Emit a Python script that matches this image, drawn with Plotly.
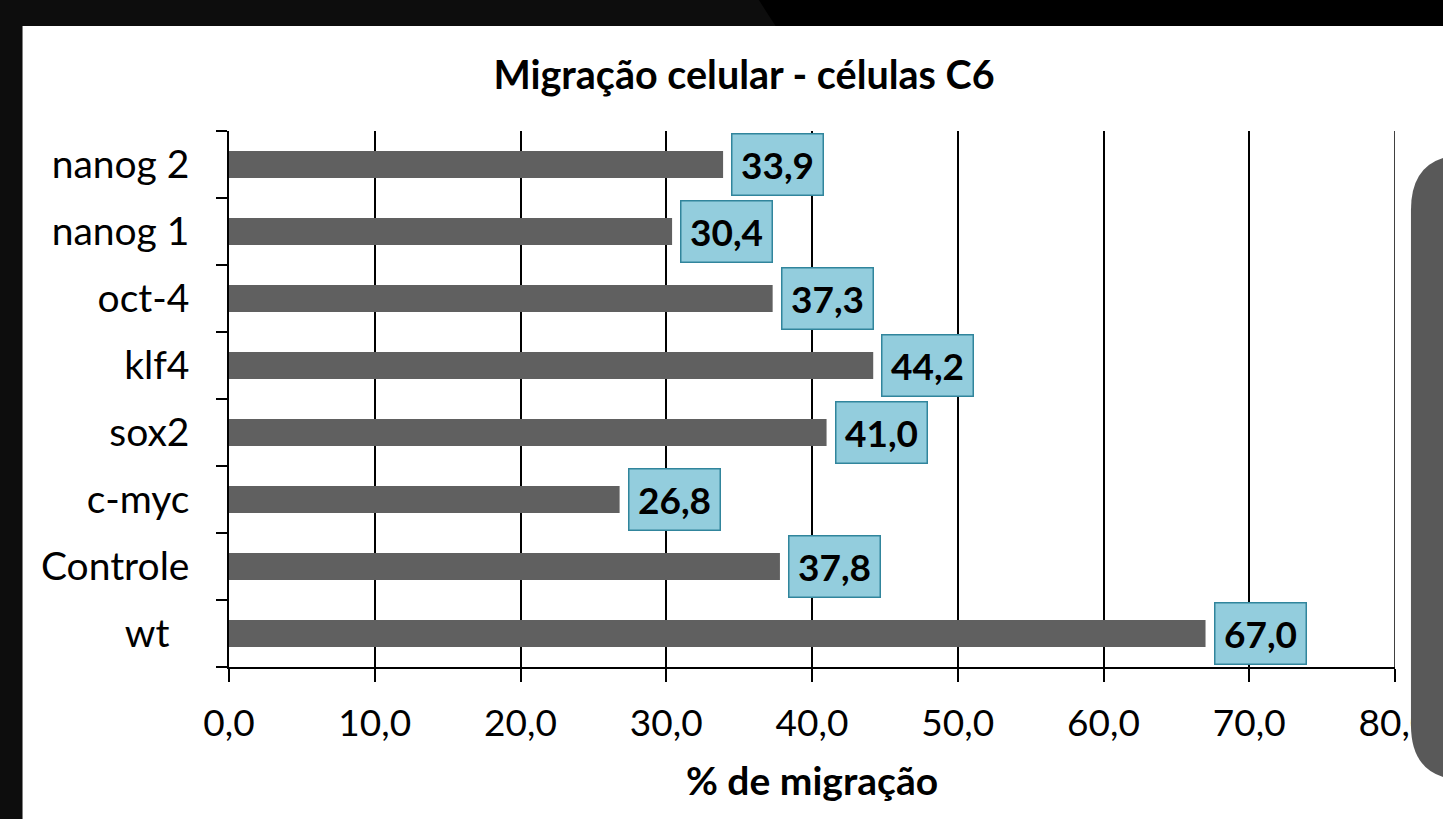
import plotly.graph_objects as go

categories = ["wt\u00a0\u00a0", "Controle", "c-myc", "sox2", "klf4", "oct-4", "nanog 1", "nanog 2"]
values = [67.0, 37.8, 26.8, 41.0, 44.2, 37.3, 30.4, 33.9]
xticks = [0, 10, 20, 30, 40, 50, 60, 70, 80]

W, H = 1443, 819
L, R, T, B = 229, 45, 131, 152
PW, PH = W - L - R, H - T - B

def fx(px):
    return (px - L) / PW

def fy(py):
    return 1 - (py - T) / PH

FONT = "Lato"

fig = go.Figure()
fig.add_trace(go.Bar(
    y=categories, x=values, orientation="h",
    marker=dict(color="#606060", line=dict(width=0)),
    width=0.4, hoverinfo="skip",
))

for c, v in zip(categories, values):
    fig.add_annotation(
        x=v, y=c, xref="x", yref="y", xanchor="left", yanchor="middle",
        xshift=8, showarrow=False,
        text=f"{v:.1f}".replace(".", ","),
        font=dict(family=FONT, size=37, color="black", weight="bold"),
        bgcolor="#93cddd", bordercolor="#31859c", borderwidth=1.5,
        width=88, height=58, borderpad=1,
    )

shapes = [
    dict(type="rect", xref="paper", yref="paper", x0=fx(-5), x1=fx(22), y0=fy(H + 5), y1=fy(-5),
         fillcolor="#0d0d0d", line=dict(width=0), layer="below"),
    dict(type="rect", xref="paper", yref="paper", x0=fx(-5), x1=fx(W + 5), y0=fy(26), y1=fy(-5),
         fillcolor="#0d0d0d", line=dict(width=0), layer="below"),
    dict(type="path", xref="paper", yref="paper",
         path=f"M {fx(757)} {fy(-5)} L {fx(W + 5)} {fy(-5)} L {fx(W + 5)} {fy(26)} L {fx(777)} {fy(26)} Z",
         fillcolor="#000000", line=dict(width=0), layer="below"),
    # gridline at the right end of the x range
    dict(type="line", xref="x", yref="paper", x0=xticks[-1], x1=xticks[-1], y0=0, y1=1,
         line=dict(color="black", width=1.5), layer="below"),
]
x0, x1, y0, y1, r = 1414, 1470, 155, 780, 55
path = (f"M {fx(x0)} {fy(y0 + r)} Q {fx(x0)} {fy(y0)} {fx(x0 + r)} {fy(y0)} "
        f"L {fx(x1)} {fy(y0)} L {fx(x1)} {fy(y1)} L {fx(x0 + r)} {fy(y1)} "
        f"Q {fx(x0)} {fy(y1)} {fx(x0)} {fy(y1 - r)} Z")
shapes.append(dict(type="path", xref="paper", yref="paper", path=path,
                   fillcolor="#595959", line=dict(width=0), layer="above"))

fig.update_layout(
    width=W, height=H,
    margin=dict(l=L, r=R, t=T, b=B, pad=0),
    paper_bgcolor="white", plot_bgcolor="white",
    separators=",.",
    showlegend=False,
    shapes=shapes,
    title=dict(text="Migração celular - células C6", x=744 / W, y=1 - 75 / H,
               xanchor="center", yanchor="middle", xref="container", yref="container",
               font=dict(family=FONT, size=39.5, color="black", weight="bold")),
    font=dict(family=FONT, color="black"),
)

fig.update_xaxes(
    range=[0, 80], tickvals=xticks, tickformat=".1f",
    showgrid=True, gridcolor="black", gridwidth=1.5,
    showline=True, linecolor="black", linewidth=1.5,
    ticks="outside", ticklen=13, tickwidth=1.5, tickcolor="black",
    tickfont=dict(family=FONT, size=37, color="black"),
    ticklabelstandoff=10,
    zeroline=False,
    title=dict(text="% de migração", standoff=25,
               font=dict(family=FONT, size=39, color="black", weight="bold")),
)
fig.update_yaxes(
    type="category", categoryorder="array", categoryarray=categories,
    range=[-0.5, 7.5],
    showgrid=False, showline=True, linecolor="black", linewidth=1.5,
    ticks="outside", tickson="boundaries", ticklen=11, tickwidth=1.5, tickcolor="black",
    tickfont=dict(family=FONT, size=39, color="black"),
    ticklabelstandoff=30,
    zeroline=False,
)

fig.write_html("out.html", config={"displayModeBar": False},
               post_script="document.body.style.margin='0';document.body.style.overflow='hidden';")
